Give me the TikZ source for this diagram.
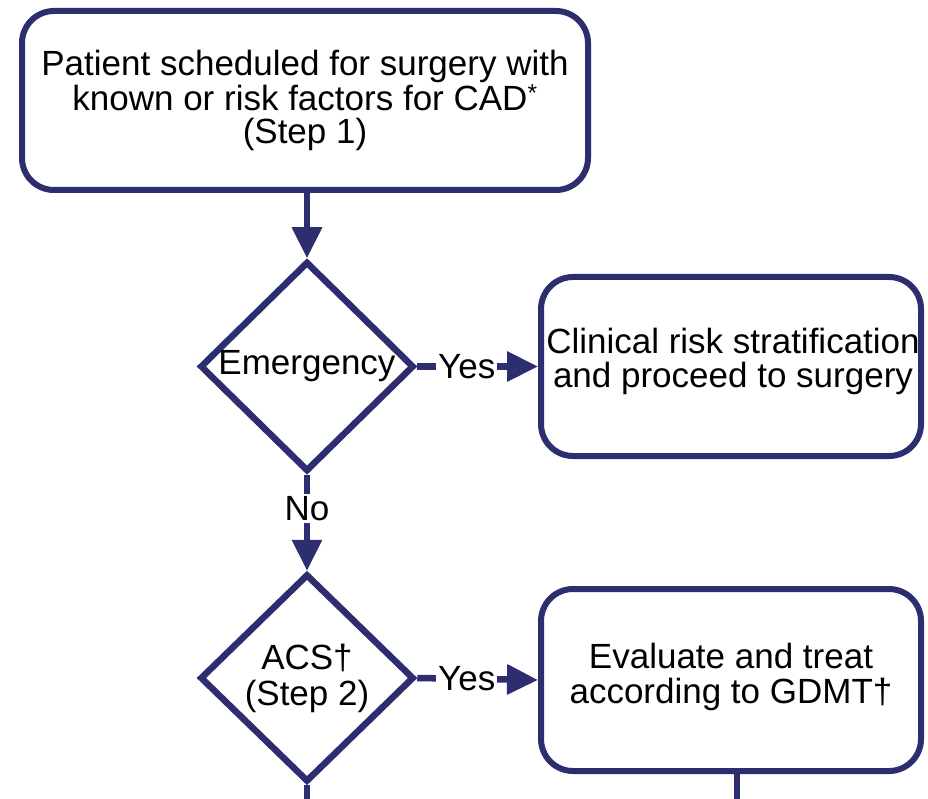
\documentclass[tikz,border=0pt]{standalone}
\usepackage{fontspec}
\setmainfont{Liberation Sans}
\usetikzlibrary{shapes.geometric,arrows.meta}
\definecolor{navy}{RGB}{44,46,112}
\begin{document}
\begin{tikzpicture}[x=1pt,y=-1pt,
  txt/.style={font=\fontsize{35}{33}\selectfont, text=black},
  box/.style={txt, draw=navy, line width=6pt, rounded corners=32pt, fill=white, align=center, inner sep=0pt},
  dia/.style={txt, draw=navy, line width=6.5pt, diamond, aspect=1, fill=white, align=center, inner sep=0pt},
  conn/.style={draw=navy, line width=6.5pt},
  arr/.style={conn, -{Triangle[width=29pt,length=31pt]}},
  lbl/.style={txt, fill=white, inner sep=2pt}]
\useasboundingbox[fill=white] (0,0) rectangle (928,799);
\node[box, minimum width=566pt, minimum height=179pt] (start) at (305,100.5)
  {Patient scheduled for surgery with\\known or risk factors for CAD\textsuperscript{*}\\(Step 1)};
\node[dia, minimum width=214pt, minimum height=210pt] (d1) at (307,366.5) {};
\node[txt] (t1) at (d1.center) {Emergency};
\node[box, minimum width=380pt, minimum height=179pt] (b2) at (731,366.5) {};
\node[txt, align=center, font=\fontsize{35}{34}\selectfont] (t3) at (733,361)
  {Clinical risk stratification\\and proceed to surgery};
\node[dia, minimum width=214pt, minimum height=208pt] (d2) at (307,678) {};
\node[txt, align=center, font=\fontsize{35}{36}\selectfont] (t2) at (d2.center) {ACS†\\(Step 2)};
\node[box, minimum width=380pt, minimum height=182pt] (b3) at (731,680) {};
\node[txt, align=center, font=\fontsize{35}{35}\selectfont] (t4) at (731,677)
  {Evaluate and treat\\according to GDMT†};
\coordinate (e1) at (307,799);
\coordinate (e2) at (737,799);
\draw[arr] (d1.north |- start.south) -- (d1.north);
\draw[arr] (d1.east) -- node[lbl, pos=0.41] (y1) {Yes} (b2.west);
\draw[arr] (d1.south) -- node[lbl, pos=0.35] (n1) {No} (d2.north);
\draw[arr] (d2.east) -- node[lbl, pos=0.41] (y2) {Yes} (b3.west);
\draw[conn] (d2.south) -- (e1);
\draw[conn] (e2 |- b3.south) -- (e2);
\end{tikzpicture}
\end{document}
